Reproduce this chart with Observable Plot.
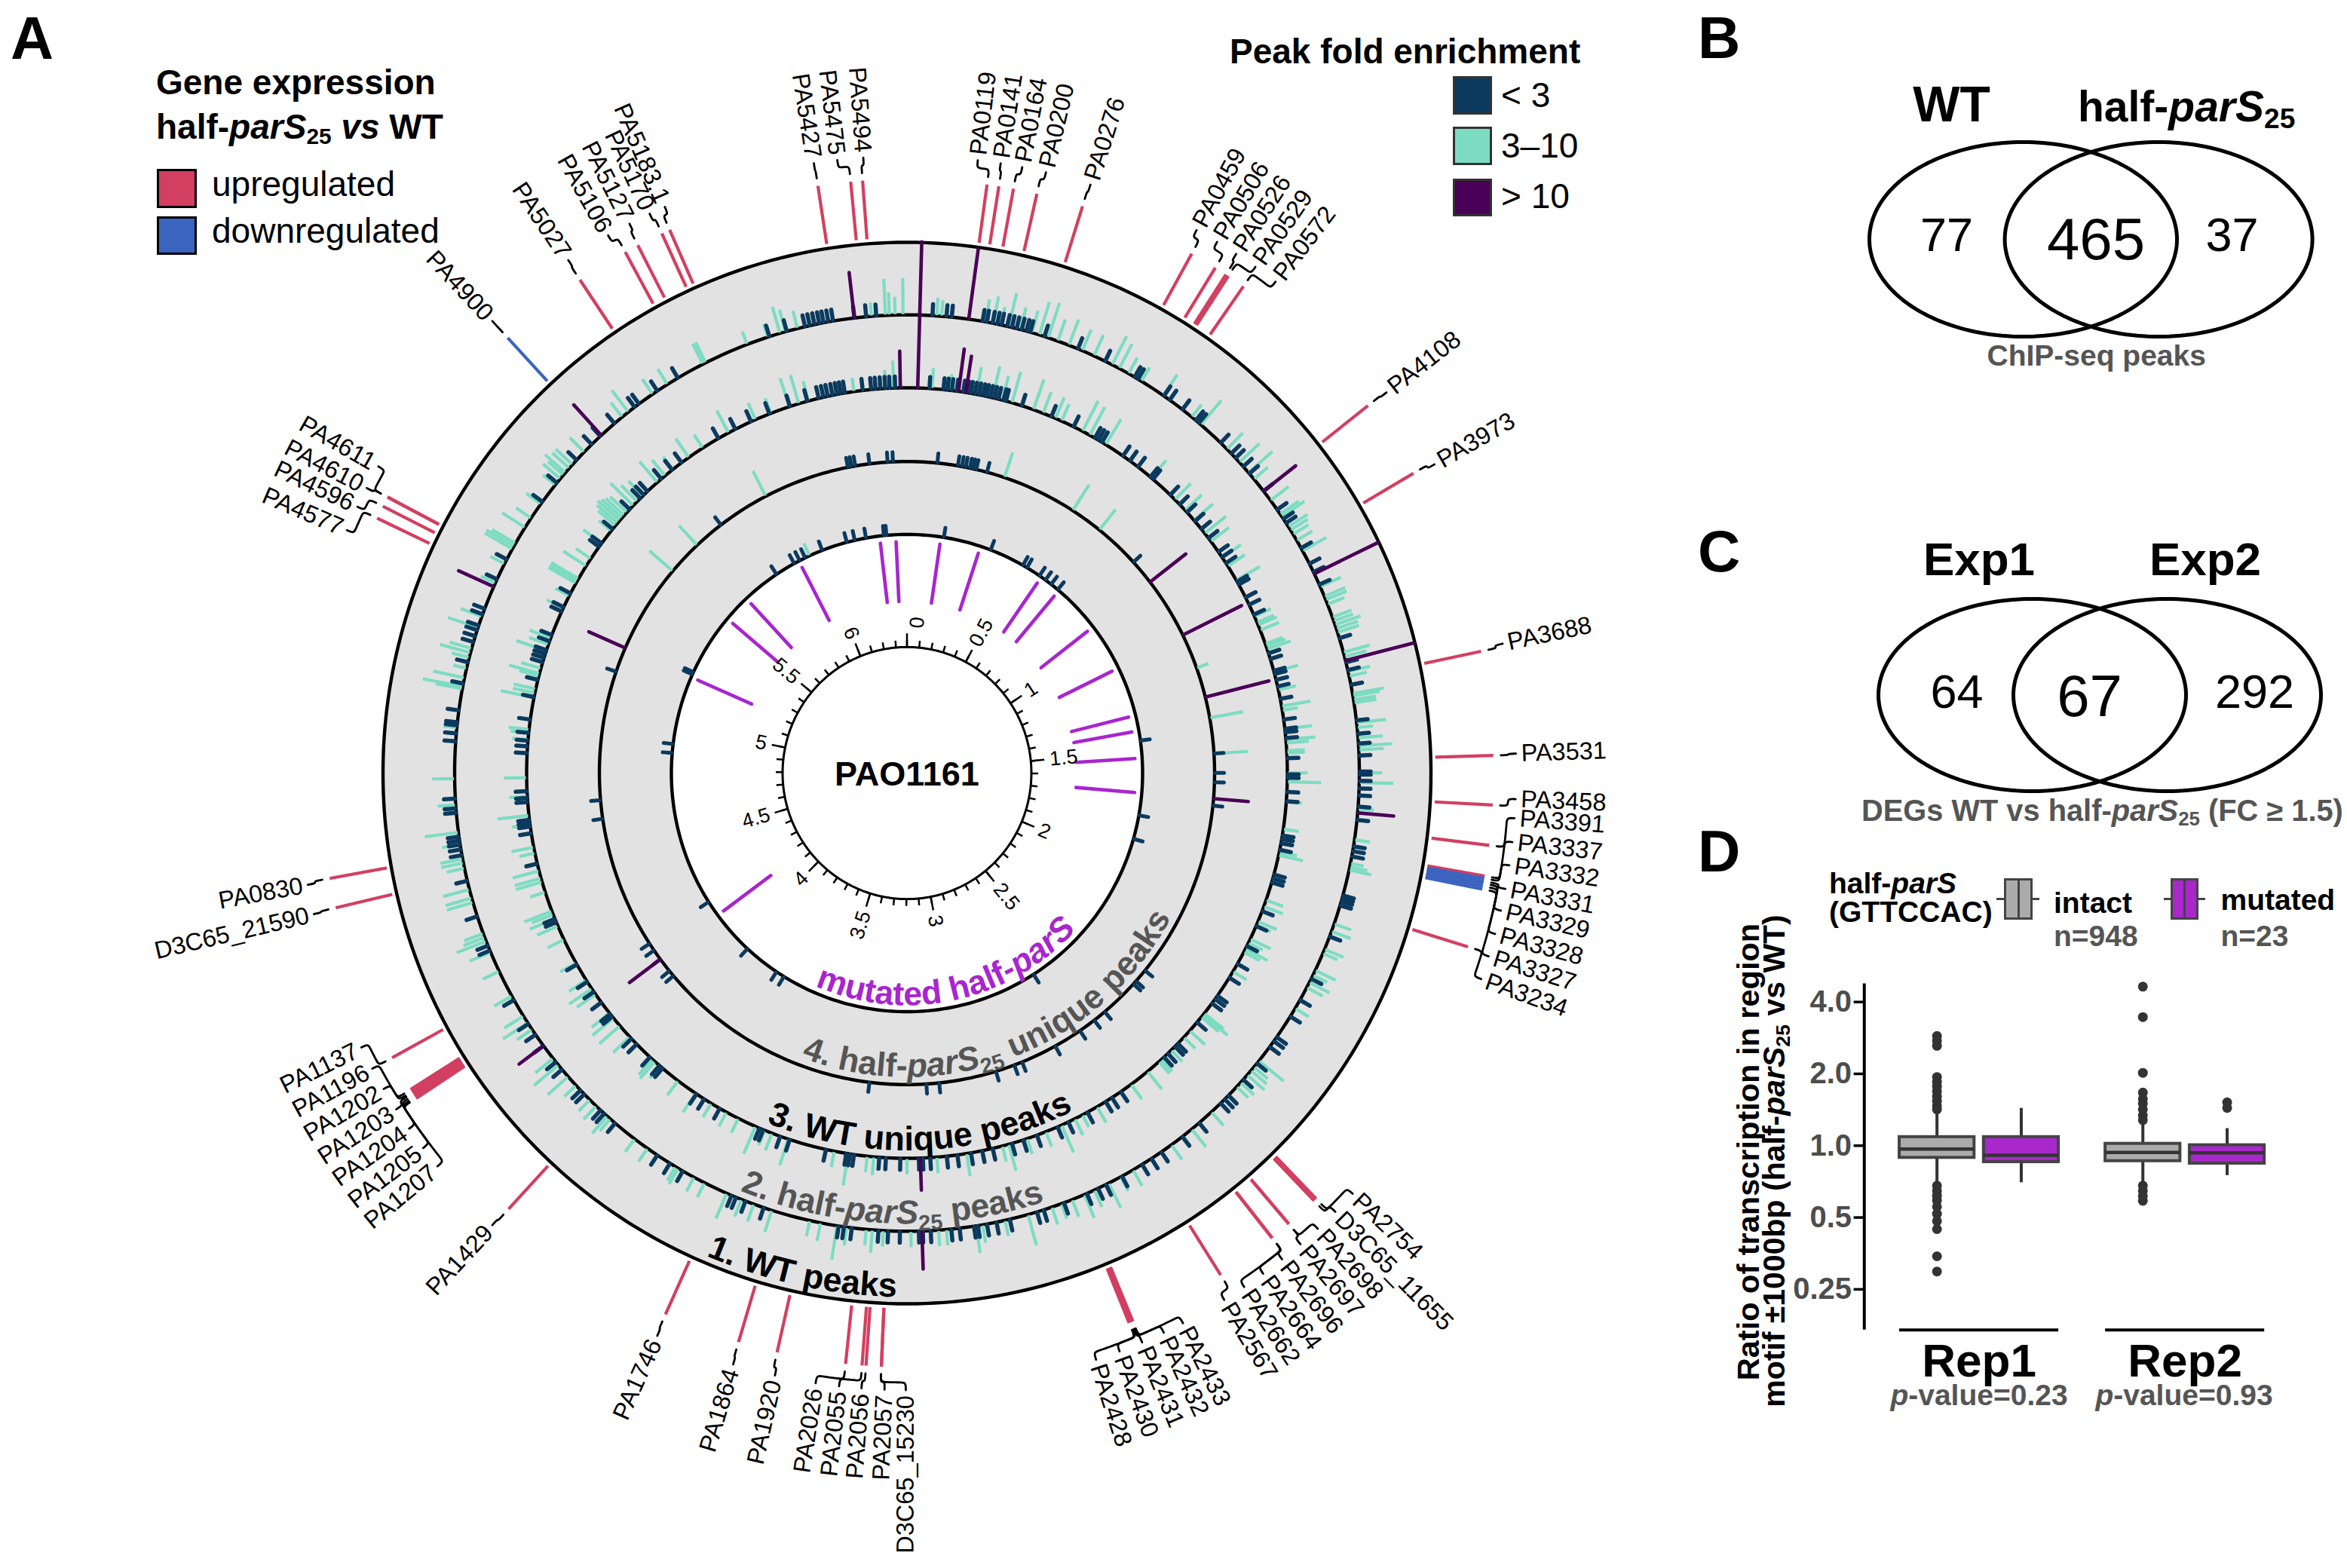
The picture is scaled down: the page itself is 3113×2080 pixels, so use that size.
<!DOCTYPE html>
<html><head><meta charset="utf-8">
<script src="https://cdn.jsdelivr.net/npm/d3@7"></script>
<script src="https://cdn.jsdelivr.net/npm/@observablehq/plot@0.6"></script>
<style>
html,body{margin:0;padding:0;background:#fff}
#root{position:relative;width:3113px;height:2080px;overflow:hidden;font-family:"Liberation Sans",Arial,sans-serif;color:#000}
#root svg{position:absolute;background:transparent;overflow:visible}
.t{position:absolute;white-space:nowrap;line-height:1.149}
.s{font-size:.65em;vertical-align:-.25em;line-height:0}
.b{position:absolute;box-sizing:border-box}
</style></head><body><div id="root"></div>
<script>
// ---------- Panel A data: positions (map units per turn = readTurn) ----------
const readTurn = 6.47, genomeMb = 6.39;
const geneNames = ["PA0119","PA0141","PA0164","PA0200","PA0276","PA0459","PA0506","PA0526","PA0529","PA0572","PA4108","PA3973","PA3688","PA3531","PA3458","PA3391","PA3337","PA3332","PA3331","PA3329","PA3328","PA3327","PA3234","PA2754","D3C65_11655","PA2698","PA2697","PA2696","PA2664","PA2662","PA2567","PA2433","PA2432","PA2431","PA2430","PA2428","D3C65_15230","PA2057","PA2056","PA2055","PA2026","PA1920","PA1864","PA1746","PA1429","PA1207","PA1205","PA1204","PA1203","PA1202","PA1196","PA1137","D3C65_21590","PA0830","PA4577","PA4596","PA4610","PA4611","PA4900","PA5027","PA5106","PA5127","PA5170","PA5183.1","PA5427","PA5475","PA5494"];
const genePos = [.141,.162,.188,.230,.313,.522,.570,.592,.597,.629,.931,1.073,1.405,1.587,1.673,1.743,1.797,1.801,1.806,1.810,1.815,1.820,1.923,2.440,2.445,2.505,2.505,2.543,2.543,2.543,2.654,2.828,2.830,2.831,2.833,2.835,3.280,3.280,3.307,3.314,3.343,3.465,3.535,3.672,4.004,4.256,4.259,4.263,4.267,4.270,4.274,4.338,4.617,4.669,5.309,5.332,5.350,5.350,5.699,5.861,5.954,5.979,6.026,6.041,6.313,6.371,6.392];
const labelPos = [.120,.159,.196,.237,.315,.510,.550,.588,.627,.669,.933,1.078,1.400,1.585,1.661,1.693,1.733,1.772,1.812,1.849,1.889,1.928,1.968,2.390,2.432,2.473,2.512,2.552,2.592,2.631,2.671,2.751,2.787,2.827,2.868,2.910,3.237,3.273,3.312,3.350,3.390,3.460,3.533,3.670,4.006,4.141,4.180,4.220,4.259,4.299,4.338,4.378,4.615,4.665,5.269,5.312,5.347,5.388,5.699,5.863,5.942,5.983,6.021,6.049,6.312,6.352,6.396];
const downGenes = ["PA4900","PA3332","PA3331","PA3329","PA3328","PA3327"];

const wtLow = [.058,.090,.102,.173,.183,.196,.207,.217,.230,.241,.252,.264,.275,.284,.318,.399,.467,.543,.552,.622,.638,.674,.713,.722,.789,.823,.837,.863,.884,.935,.987,1.012,1.023,1.089,1.129,1.150,1.181,1.310,1.366,1.384,1.418,1.499,1.529,1.551,1.578,1.614,1.621,1.635,1.652,1.668,1.693,1.723,1.783,1.794,1.806,1.896,1.903,1.910,1.919,1.993,2.097,2.151,2.194,2.250,2.261,2.277,2.324,2.372,2.421,2.433,2.446,2.512,2.561,2.620,2.647,2.672,2.725,2.766,2.786,2.814,2.870,2.919,2.935,2.999,3.030,3.052,3.073,3.082,3.115,3.134,3.181,3.199,3.208,3.251,3.278,3.300,3.361,3.379,3.391,3.567,3.611,3.634,3.645,3.769,3.803,3.837,3.957,3.990,4.001,4.053,4.065,4.128,4.150,4.196,4.227,4.256,4.319,4.443,4.455,4.525,4.608,4.667,4.680,4.691,4.700,4.709,4.763,4.773,4.795,4.924,4.942,4.960,4.967,4.994,5.055,5.104,5.151,5.165,5.179,5.190,5.217,5.230,5.302,5.352,5.505,5.559,5.627,5.676,5.703,5.746,5.805,5.817,5.868,5.923,6.152,6.193,6.236,6.247,6.258,6.269,6.279,6.290,6.301,6.350,6.377,6.400];
const wtMid = [[.068,4],[.079,3.5],[.180,5],[.198,6],[.216,4],[.234,7.5],[.261,5],[.288,5],[.306,7.5],[.327,8],[.350,5],[.377,6],[.410,5],[.439,5],[.485,7],[.503,6],[.527,4],[.561,3.5],[.620,5.5],[.701,3.5],[.728,7],[.809,5],[.850,6],[.881,7],[.900,4],[.961,5],[.999,5],[1.006,6],[1.033,5],[1.042,4.5],[1.053,4],[1.069,4],[1.096,6],[1.186,5],[1.210,5],[1.218,5],[1.229,4],[1.260,4.5],[1.269,4.5],[1.278,6],[1.287,5],[1.296,5],[1.343,6],[1.353,5],[1.387,5],[1.398,4],[1.438,7],[1.443,6],[1.452,5],[1.459,5],[1.504,6.5],[1.515,3.5],[1.538,5.5],[1.556,7.5],[1.565,5.5],[1.617,5],[1.639,7.5],[1.698,3.5],[1.768,3.5],[1.822,3],[1.830,4],[1.837,5],[1.914,3],[1.963,4],[1.981,4.5],[2.024,4.5],[2.034,3.5],[2.076,5],[2.088,3.5],[2.106,5],[2.119,4],[2.173,3.5],[2.317,7],[2.335,4],[2.345,4.5],[2.358,5],[2.381,4],[2.394,3.5],[2.475,4],[2.534,5],[2.592,4],[2.696,4],[2.728,3.5],[2.759,6],[2.795,4],[2.820,5.5],[2.850,4],[2.876,3.5],[2.899,4],[2.956,7],[3.010,3.5],[3.062,4],[3.077,6],[3.145,3.5],[3.163,3.5],[3.226,3.5],[3.289,3.5],[3.314,5],[3.328,3.5],[3.373,4],[3.395,7.5],[3.433,4],[3.458,3.5],[3.548,5],[3.591,4],[3.621,4],[3.657,6],[3.713,3.5],[3.740,3.5],[3.781,4],[3.788,3.5],[3.864,3.5],[3.900,3.5],[3.972,3.5],[3.981,5],[4.015,4],[4.035,3.5],[4.080,3.5],[4.107,6],[4.141,7],[4.160,5],[4.241,4],[4.259,6.5],[4.277,5],[4.329,4.5],[4.392,4],[4.439,5],[4.466,7],[4.475,5],[4.484,4.5],[4.558,6],[4.568,6],[4.588,6],[4.637,4],[4.649,5],[4.658,5],[4.691,4],[4.719,7.5],[4.781,4],[4.840,5],[4.955,3],[5.043,6],[5.048,9],[5.068,7],[5.090,3],[5.115,4],[5.126,7],[5.136,5],[5.185,7],[5.212,5],[5.293,3.5],[5.341,3.5],[5.379,7],[5.386,7],[5.393,6],[5.435,6],[5.460,4],[5.499,4],[5.553,3.5],[5.571,5],[5.582,4.5],[5.589,6],[5.602,5],[5.613,5],[5.652,4.5],[5.769,4],[5.787,6],[5.855,4],[5.895,4],[5.988,5],[5.995,5],[6.098,3],[6.148,3],[6.177,6],[6.190,5],[6.218,4],[6.389,3],[6.421,8],[6.430,5],[6.443,4],[6.461,8]];
const wtHigh = [[.029,16],[.141,15.5],[.935,9],[1.154,15.5],[1.362,15.5],[1.707,8],[3.201,8.3],[4.196,6.7],[5.284,8.5],[5.706,9],[6.350,10]];

const halfLow = [.061,.099,.110,.122,.135,.153,.164,.174,.185,.196,.207,.217,.228,.239,.250,.264,.271,.316,.401,.467,.532,.543,.554,.622,.645,.672,.715,.724,.787,.823,.852,.884,.911,.942,.988,1.005,1.024,1.082,1.091,1.130,1.152,1.181,1.292,1.308,1.341,1.350,1.366,1.384,1.418,1.474,1.499,1.508,1.524,1.578,1.621,1.630,1.668,1.693,1.785,1.795,1.806,1.824,1.892,1.903,1.914,1.995,2.038,2.097,2.151,2.194,2.252,2.263,2.277,2.342,2.419,2.430,2.457,2.471,2.620,2.649,2.669,2.726,2.784,2.816,2.876,2.915,2.947,3.001,3.030,3.061,3.098,3.127,3.172,3.192,3.203,3.253,3.292,3.310,3.379,3.390,3.400,3.456,3.558,3.585,3.634,3.645,3.765,3.814,3.839,3.954,3.965,3.999,4.049,4.069,4.148,4.157,4.196,4.231,4.263,4.317,4.443,4.453,4.608,4.691,4.709,4.718,4.727,4.775,4.786,4.804,4.906,4.924,4.939,4.960,4.996,5.057,5.104,5.153,5.165,5.176,5.187,5.212,5.230,5.298,5.311,5.352,5.499,5.510,5.559,5.629,5.670,5.683,5.697,5.747,5.785,5.817,5.936,5.988,6.035,6.089,6.148,6.197,6.229,6.242,6.254,6.267,6.279,6.290,6.301,6.350,6.373,6.385,6.398,6.411,6.423,6.438];
const halfMid = [[.068,4.5],[.117,3.5],[.189,6],[.234,7],[.261,5.5],[.288,7],[.349,7],[.377,5],[.413,5],[.431,4],[.494,7.5],[.516,7],[.566,6.5],[.719,5],[.805,5],[.845,5],[.881,5.5],[.926,6],[.953,5],[1.006,5],[1.033,4.5],[1.078,6],[1.226,4.5],[1.211,4.5],[1.204,4],[1.186,4],[1.265,4],[1.271,4.5],[1.280,5.5],[1.344,5.5],[1.393,4],[1.438,6.5],[1.449,3.5],[1.499,6],[1.528,6.5],[1.537,5],[1.558,4],[1.564,4],[1.641,7.5],[1.617,4.5],[1.695,3.5],[1.768,3.5],[1.839,5.5],[1.830,4],[1.905,3],[1.964,4],[1.982,4.5],[2.025,4.5],[2.036,3.5],[2.076,5],[2.088,3.5],[2.106,5.5],[2.115,4],[2.175,3.5],[2.311,5.5],[2.317,7],[2.324,5],[2.372,4.5],[2.396,3.5],[2.444,3.5],[2.480,3.5],[2.489,3.5],[2.530,5],[2.586,4],[2.696,4],[2.764,4],[2.741,3],[2.804,6.5],[2.850,3.5],[2.904,3.5],[2.956,6],[2.974,3.5],[3.073,5],[3.154,3.5],[3.235,3.5],[3.325,4],[3.343,3.5],[3.395,7],[3.433,3.5],[3.562,6],[3.609,4],[3.630,3.5],[3.657,6.5],[3.708,3.5],[3.744,3.5],[3.792,3.5],[3.842,5],[3.900,4],[3.963,3.5],[3.981,5],[3.990,4.5],[4.076,5],[4.116,6],[4.143,6],[4.160,5],[4.223,5],[4.241,6],[4.268,4.5],[4.322,4],[4.392,4],[4.432,5],[4.453,6],[4.466,5],[4.475,6.5],[4.529,3.5],[4.558,6],[4.568,6],[4.588,6],[4.637,3.5],[4.653,5],[4.739,7],[4.714,4],[4.790,4],[4.840,5],[4.942,3.5],[4.960,4],[4.969,4.5],[5.056,7.5],[5.068,5],[5.079,5],[5.115,4.5],[5.122,7],[5.136,4.5],[5.185,7],[5.203,4.5],[5.221,5],[5.309,4],[5.345,3.5],[5.383,7],[5.390,7],[5.397,7],[5.437,6],[5.460,4],[5.510,5],[5.553,3.5],[5.571,5],[5.580,6],[5.589,6.5],[5.598,6],[5.607,5.5],[5.618,5],[5.643,7],[5.658,5],[5.679,4.5],[5.733,6],[5.760,4.5],[5.787,3.5],[5.841,5],[5.886,3.5],[5.967,5.5],[6.048,4],[6.093,3.5],[6.146,6.5],[6.173,6.5],[6.200,4.5],[6.326,3],[6.412,4],[6.434,6]];
const halfHigh = [[6.452,8],[.029,16],[.140,9.3],[.160,8],[3.199,7]];

const wtUniqueLow = [6.271,6.283,6.296,6.344,6.405,6.423,.102,.171,.185,.198,.212,.223,.234,.271,.852,1.553,1.617,1.648,1.725,2.324,2.370,2.383,2.516,2.561,2.620,2.717,2.840,2.868,2.933,3.127,3.170,3.361,4.123,4.144,4.193,4.229,4.256,4.701,4.763,5.194,5.801];
const wtUniqueMid = [[.332,5.8],[.586,6.7],[.696,5.7],[1.263,2.8],[1.434,7.5],[1.553,7.5],[5.579,6.8],[5.697,5.9],[5.979,6.2]];
const wtUniqueHigh = [[.938,10],[1.145,14.5],[1.364,14.5],[1.702,7.7],[4.193,8.5],[5.278,8.8]];

const halfUniqueLow = [5.866,5.956,5.983,6.010,6.091,6.204,6.240,6.290,6.369,6.380,.162,.374,.530,.550,.615,.647,.678,.715,1.477,1.801,1.905,2.651,3.801,3.839,4.001,4.265,4.939,4.978,5.291,5.302];
const halfUniqueMid = [[6.031,3]];

const mutatedHalfParS = [6.350,6.421,.149,.327,.625,.721,.938,1.148,1.366,1.434,1.553,1.704,4.195,5.278,5.577,5.697,5.979];
const axisMajor = [0,.5,1,1.5,2,2.5,3,3.5,4,4.5,5,5.5,6];
const axisMinor = d3.range(0,64).map(i=>i/10);

// ---------- Panels B, C ----------
const vennB = [77,465,37], vennC = [64,67,292];

// ---------- Panel D ----------
const boxRep = ["Rep1","Rep1","Rep2","Rep2"];
const boxGroup = ["intact","mutated","intact","mutated"];
const boxQ1 = [.89,.854,.862,.842], boxMedian = [.968,.911,.937,.933], boxQ3 = [1.087,1.087,1.019,1.005];
const boxLow = [.70,.70,.70,.75], boxHigh = [1.37,1.435,1.25,1.18];
const rep1IntactOut = [2.88,2.75,2.62,1.94,1.85,1.77,1.69,1.61,1.54,1.47,1.42,.68,.647,.617,.59,.555,.518,.483,.447,.344,.297];
const rep2IntactOut = [4.64,3.46,2.02,1.67,1.57,1.50,1.42,1.34,1.28,.68,.647,.615,.587];
const rep2MutatedOut = [1.52,1.44];

// ---------- colours ----------
const cUp="#d33f60", cDown="#3b64bf", cLow="#0b3a5e", cMid="#7cdcc2", cHigh="#4a0057", cMut="#a825d0", cGray="#e2e2e2", cText="#555555";

const root = document.getElementById("root");
function put(html,x,y,size,o={}){
  const d=document.createElement("div");d.className="t";d.innerHTML=html;
  d.style.left=x+"px";d.style.top=(y-.905*size)+"px";d.style.fontSize=size+"px";
  d.style.fontWeight=o.bold?"bold":"normal";d.style.color=o.color||"#000";
  if(o.center)d.style.transform="translateX(-50%)";
  root.appendChild(d);return d;
}
function rotated(html,x,y,size,o={}){
  const d=document.createElement("div");d.className="t";d.innerHTML=html;
  d.style.left=x+"px";d.style.top=y+"px";d.style.fontSize=size+"px";d.style.fontWeight="bold";
  d.style.transform="translate(-50%,-50%) rotate(-90deg)";d.style.color=o.color||"#000";
  root.appendChild(d);
}
function box(x1,y1,x2,y2,fill,border,bw){
  const d=document.createElement("div");d.className="b";
  d.style.cssText+=`left:${x1}px;top:${y1}px;width:${x2-x1}px;height:${y2-y1}px;background:${fill};`+(border?`border:${bw}px solid ${border};`:"");
  root.appendChild(d);
}
function mount(svg,l,t){svg.style.left=l+"px";svg.style.top=t+"px";root.appendChild(svg);}

// ---------- Panel A: circular map, through Plot's x/y scales ----------
const W=2230,H=2080,cx=1202.5,cy=1025,S=1.013;
const rings=[695,600,504.5,408,312.5], hub=165;
const deg=p=>p/readTurn*360, degAxis=m=>m/genomeMb*360;
const P=(a,r)=>{const t=a*Math.PI/180;return {x:r*Math.sin(t),y:r*Math.cos(t)};};
const circle=r=>d3.range(0,361,1).map(a=>P(a,r));
const seg=(a,r1,r2,extra={})=>{const A=P(a,r1),B=P(a,r2);return {x1:A.x,y1:A.y,x2:B.x,y2:B.y,...extra};};
const lvl=d3.scaleLinear([0,16],[0,96]);
const peakLinks=(arr,base)=>arr.map(([p,l])=>seg(deg(p),base+1,base+lvl(l)));
const lowLinks=(arr,base,l)=>arr.map(p=>seg(deg(p),base+1,base+lvl(l)));
const link=(data,stroke,sw,extra={})=>Plot.link(data,{x1:"x1",y1:"y1",x2:"x2",y2:"y2",stroke,strokeWidth:sw,...extra});

const genes=geneNames.map((g,i)=>({g,a:deg(genePos[i]),b:deg(labelPos[i]),down:downGenes.includes(g)}));
const rGene1=701,rGene2=778,rC1=788,rCm=798,rC2=808,rLab=815;
const connectors=genes.flatMap(({g,a,b})=>{
  const n=Math.max(2,Math.ceil(Math.abs(a-b)*2));
  const arc=d3.range(n+1).map(i=>P(a+(b-a)*i/n,rCm));
  return [P(a,rC1),...arc,P(b,rC2)].map(p=>({...p,g}));
});
const textRow=(a,r,text)=>({...P(a,r),text,rot:a<180?a-90:a-270,a});
const geneLabels=genes.map(d=>textRow(d.b,rLab,d.g));
const tickLabels=axisMajor.map(m=>textRow(degAxis(m)+(m===0?4:0),190,String(m)));

// curved track captions: one glyph per text mark, advance taken from font metrics
const ctx=document.createElement("canvas").getContext("2d");
function curved(runs,centerDeg,r,size,color){
  const glyphs=[];let total=0;
  for(const run of runs){
    const s=run.sub?size*.65:size;
    ctx.font=`${run.italic?"italic ":""}bold ${s}px "Liberation Sans"`;
    for(const ch of run.t){const w=ctx.measureText(ch).width;glyphs.push({ch,w,run});total+=w;}
  }
  let cum=0;
  const a0=centerDeg+(total/2)/r*180/Math.PI;
  const rows=glyphs.map(({ch,w,run})=>{
    const a=a0-(cum+w/2)/r*180/Math.PI;cum+=w;
    return {...P(a,run.sub?r+9:r),text:ch,rot:a-180,italic:!!run.italic,sub:!!run.sub};
  });
  const mk=(f,fs,st)=>Plot.text(rows.filter(f),{x:"x",y:"y",text:"text",rotate:"rot",fontSize:fs,fontWeight:"bold",fontStyle:st,fill:color,lineAnchor:"bottom"});
  return [mk(d=>!d.italic&&!d.sub,size,"normal"),mk(d=>d.italic,size,"italic"),mk(d=>d.sub,size*.65,"normal")];
}

const plotA=Plot.plot({
  width:W,height:H,margin:0,
  style:{fontFamily:'"Liberation Sans",Arial,sans-serif',background:"transparent"},
  x:{domain:[-cx,W-cx],axis:null},
  y:{domain:[-(H-cy)/S,cy/S],axis:null},
  marks:[
    Plot.line(circle(rings[0]),{x:"x",y:"y",fill:cGray,stroke:"none"}),
    Plot.line(circle(rings[4]),{x:"x",y:"y",fill:"#fff",stroke:"none"}),
    ...rings.map(r=>Plot.line(circle(r),{x:"x",y:"y",stroke:"#000",strokeWidth:4.4})),
    // tracks
    link(peakLinks(wtMid,rings[1]),cMid,4.2),
    link(peakLinks(halfMid,rings[2]),cMid,4.2),
    link(peakLinks(wtUniqueMid,rings[3]),cMid,4.2),
    link(peakLinks(halfUniqueMid,rings[4]),cMid,4.2),
    link(lowLinks(wtLow,rings[1],2.5),cLow,5.5,{strokeLinecap:"round"}),
    link(lowLinks(halfLow,rings[2],2.5),cLow,5.5,{strokeLinecap:"round"}),
    link(lowLinks(wtUniqueLow,rings[3],2.1),cLow,5,{strokeLinecap:"round"}),
    link(lowLinks(halfUniqueLow,rings[4],2.1),cLow,5,{strokeLinecap:"round"}),
    link(peakLinks(wtHigh,rings[1]),cHigh,4.6,{strokeLinecap:"round"}),
    link(peakLinks(halfHigh,rings[2]),cHigh,4.6,{strokeLinecap:"round"}),
    link(peakLinks(wtUniqueHigh,rings[3]),cHigh,4.6,{strokeLinecap:"round"}),
    // mutated half-parS
    link(mutatedHalfParS.map(p=>seg(deg(p),225,303)),cMut,4.6,{strokeLinecap:"round"}),
    // genome axis
    Plot.line(circle(hub),{x:"x",y:"y",stroke:"#000",strokeWidth:3,fill:"#fff"}),
    link(axisMinor.map(m=>seg(degAxis(m),hub,174)),"#000",2.5),
    link(axisMajor.map(m=>seg(degAxis(m),hub,183)),"#000",2.5),
    Plot.text(tickLabels.filter(d=>d.a<180),{x:"x",y:"y",text:"text",rotate:"rot",textAnchor:"start",fontSize:27,fill:"#000"}),
    Plot.text(tickLabels.filter(d=>d.a>=180),{x:"x",y:"y",text:"text",rotate:"rot",textAnchor:"end",fontSize:27,fill:"#000"}),
    Plot.text(["PAO1161"],{x:()=>0,y:()=>-2,text:d=>d,fontSize:45,fontWeight:"bold",fill:"#000"}),
    // genes
    link(genes.filter(d=>!d.down).map(d=>seg(d.a,rGene1,rGene2)),cUp,4.2),
    link(genes.filter(d=>d.down).map(d=>seg(d.a,rGene1,rGene2)),cDown,4.2),
    Plot.line(connectors,{x:"x",y:"y",z:"g",stroke:"#000",strokeWidth:2.8,curve:"basis"}),
    Plot.text(geneLabels.filter(d=>d.a<180),{x:"x",y:"y",text:"text",rotate:"rot",textAnchor:"start",fontSize:32.5,fill:"#000"}),
    Plot.text(geneLabels.filter(d=>d.a>=180),{x:"x",y:"y",text:"text",rotate:"rot",textAnchor:"end",fontSize:32.5,fill:"#000"}),
    // track captions
    ...curved([{t:"1. WT peaks"}],192,686,45,"#000"),
    ...curved([{t:"2. half-"},{t:"parS",italic:true},{t:"25",sub:true},{t:" peaks"}],182,590,44.5,cText),
    ...curved([{t:"3. WT unique peaks"}],177.8,494,45,"#000"),
    ...curved([{t:"4. half-"},{t:"parS",italic:true},{t:"25",sub:true},{t:" unique peaks"}],159.5,398,44.5,cText),
    ...curved([{t:"mutated half-"},{t:"parS",italic:true}],168,304,44.5,cMut)
  ]
});
mount(plotA,0,0);

// Legends of panel A
put("A",14,77,79,{bold:true});
put("Gene expression",207,125,46,{bold:true});
put('half-<i>parS</i><span class="s">25</span> <i>vs</i> WT',207,184,46,{bold:true});
box(208,224,261,276,cUp,"#000",3);box(208,287,261,338,cDown,"#000",3);
put("upregulated",281,260,46);put("downregulated",281,322,46);
put("Peak fold enrichment",1631,84,46,{bold:true});
box(1927,101,1979,152,cLow,"#333",3);box(1927,168,1979,219,cMid,"#333",3);box(1927,237,1979,287,cHigh,"#333",3);
put("&lt; 3",1991,142,46);put("3–10",1991,209,46);put("&gt; 10",1991,276,46);

// ---------- Venn diagrams ----------
const ellipse=(x,y,rx,ry)=>d3.range(0,361,2).map(a=>({x:x+rx*Math.cos(a*Math.PI/180),y:y+ry*Math.sin(a*Math.PI/180)}));
function venn(l,t,w,h,c1,c2,cyV,ry,values,xs,ys,sizes){
  const rows=values.map((v,i)=>({v,x:xs[i],y:ys[i],s:sizes[i]}));
  const svg=Plot.plot({
    width:w,height:h,margin:0,
    style:{fontFamily:'"Liberation Sans",Arial,sans-serif',background:"transparent"},
    x:{domain:[l,l+w],axis:null},y:{domain:[t+h,t],axis:null},
    marks:[
      Plot.line(ellipse(c1,cyV,204,ry),{x:"x",y:"y",stroke:"#000",strokeWidth:5}),
      Plot.line(ellipse(c2,cyV,204,ry),{x:"x",y:"y",stroke:"#000",strokeWidth:5}),
      ...rows.map(d=>Plot.text([d],{x:"x",y:"y",text:"v",fontSize:d.s,fill:"#000"}))
    ]
  });
  mount(svg,l,t);
}
venn(2440,170,673,290,2683,2862.6,317,129,vennB,[2581.5,2779.5,2960],[312,319,312],[63,78,63]);
venn(2440,780,673,280,2695,2874,921.5,127.5,vennC,[2595,2771,2990],[918,925,918],[63,78,63]);
put("B",2252,77,78,{bold:true});
put("C",2252,758,78,{bold:true});
put("D",2252,1156,78,{bold:true});
put("WT",2588.5,161,66,{bold:true,center:true});
put('half-<i>parS</i><span class="s">25</span>',2756,161,57,{bold:true});
put("ChIP-seq peaks",2780.7,485,39,{bold:true,color:cText,center:true});
put("Exp1",2625,762,62,{bold:true,center:true});
put("Exp2",2925,762,62,{bold:true,center:true});
put('DEGs WT vs half-<i>parS</i><span class="s">25</span> (FC ≥ 1.5)',2469,1089,39.8,{bold:true,color:cText});

// ---------- Panel D: boxplots ----------
const boxes=boxRep.map((rep,i)=>({rep,group:boxGroup[i],q1:boxQ1[i],median:boxMedian[i],q3:boxQ3[i],low:boxLow[i],high:boxHigh[i]}));
const outliers=[...rep1IntactOut.map(v=>({rep:"Rep1",group:"intact",v})),...rep2IntactOut.map(v=>({rep:"Rep2",group:"intact",v})),...rep2MutatedOut.map(v=>({rep:"Rep2",group:"mutated",v}))];
const yMin=.169,yMax=4.77;
const plotD=Plot.plot({
  width:813,height:620,marginLeft:172.6,marginRight:63.4,marginTop:24.5,marginBottom:136.3,
  style:{fontFamily:'"Liberation Sans",Arial,sans-serif',background:"transparent",overflow:"visible"},
  fx:{domain:["Rep1","Rep2"],axis:null,paddingInner:.2271,paddingOuter:.17,round:false,label:null},
  x:{domain:["intact","mutated"],axis:null,paddingInner:.112,paddingOuter:0,round:false},
  y:{type:"log",base:2,domain:[yMin,yMax],axis:null},
  color:{domain:["intact","mutated"],range:["#ababab","#a828cc"]},
  marks:[
    Plot.axisY({anchor:"left",ticks:[.25,.5,1,2,4],tickFormat:d=>d===.25?"0.25":d.toFixed(1),fontSize:40,fontWeight:"bold",tickSize:14,tickPadding:3,strokeWidth:3.5,stroke:"#000",fill:"#4d4d4d",label:null,dx:-46.4}),
    Plot.ruleX([{rep:"Rep1"}],{fx:"rep",x:()=>"intact",y1:()=>yMin,y2:()=>yMax,stroke:"#000",strokeWidth:4,dx:-96.4}),
    Plot.ruleY([yMin],{stroke:"#000",strokeWidth:4}),
    Plot.ruleX(boxes,{fx:"rep",x:"group",y1:"low",y2:"high",stroke:"#333",strokeWidth:4}),
    Plot.barY(boxes,{fx:"rep",x:"group",y1:"q1",y2:"q3",fill:"group",stroke:"#444",strokeWidth:4}),
    Plot.tickY(boxes,{fx:"rep",x:"group",y:"median",stroke:"#333",strokeWidth:4.5}),
    Plot.dot(outliers,{fx:"rep",x:"group",y:"v",r:6.5,fill:"#333",stroke:"none"}),
    Plot.text(["Rep1","Rep2"],{fx:d=>d,text:d=>d,frameAnchor:"bottom",lineAnchor:"bottom",dy:62,fontSize:62,fontWeight:"bold",fill:"#000"})
  ]
});
mount(plotD,2300,1280);
rotated("Ratio of transcription in region",2319,1528,41.5);
rotated('motif ±1000bp (half-<i>parS</i><span class="s">25</span> vs WT)',2354,1540,41);
put('<i>p</i>-value=0.23',2625,1864,39,{bold:true,color:cText,center:true});
put('<i>p</i>-value=0.93',2897,1864,39,{bold:true,color:cText,center:true});
put('half-<i>parS</i>',2426,1185,39,{bold:true});
put('(GTTCCAC)',2426,1223.5,39,{bold:true});
function key(x1,x2,wx1,wx2,y1,y2,fill){
  box(wx1,(y1+y2)/2-1.5,wx2,(y1+y2)/2+1.5,"#444");
  box(x1,y1,x2,y2,fill,"#444",3);
  box((x1+x2)/2-1.5,y1,(x1+x2)/2+1.5,y2,"#444");
}
key(2658,2696,2648,2705,1165,1220,"#ababab");
key(2878.5,2916,2870,2925,1165,1220,"#a828cc");
put("intact",2724,1211,39,{bold:true});
put("n=948",2724,1255,39,{bold:true,color:cText});
put("mutated",2945.5,1207.5,39,{bold:true});
put("n=23",2945.5,1255,39,{bold:true,color:cText});
</script></body></html>
